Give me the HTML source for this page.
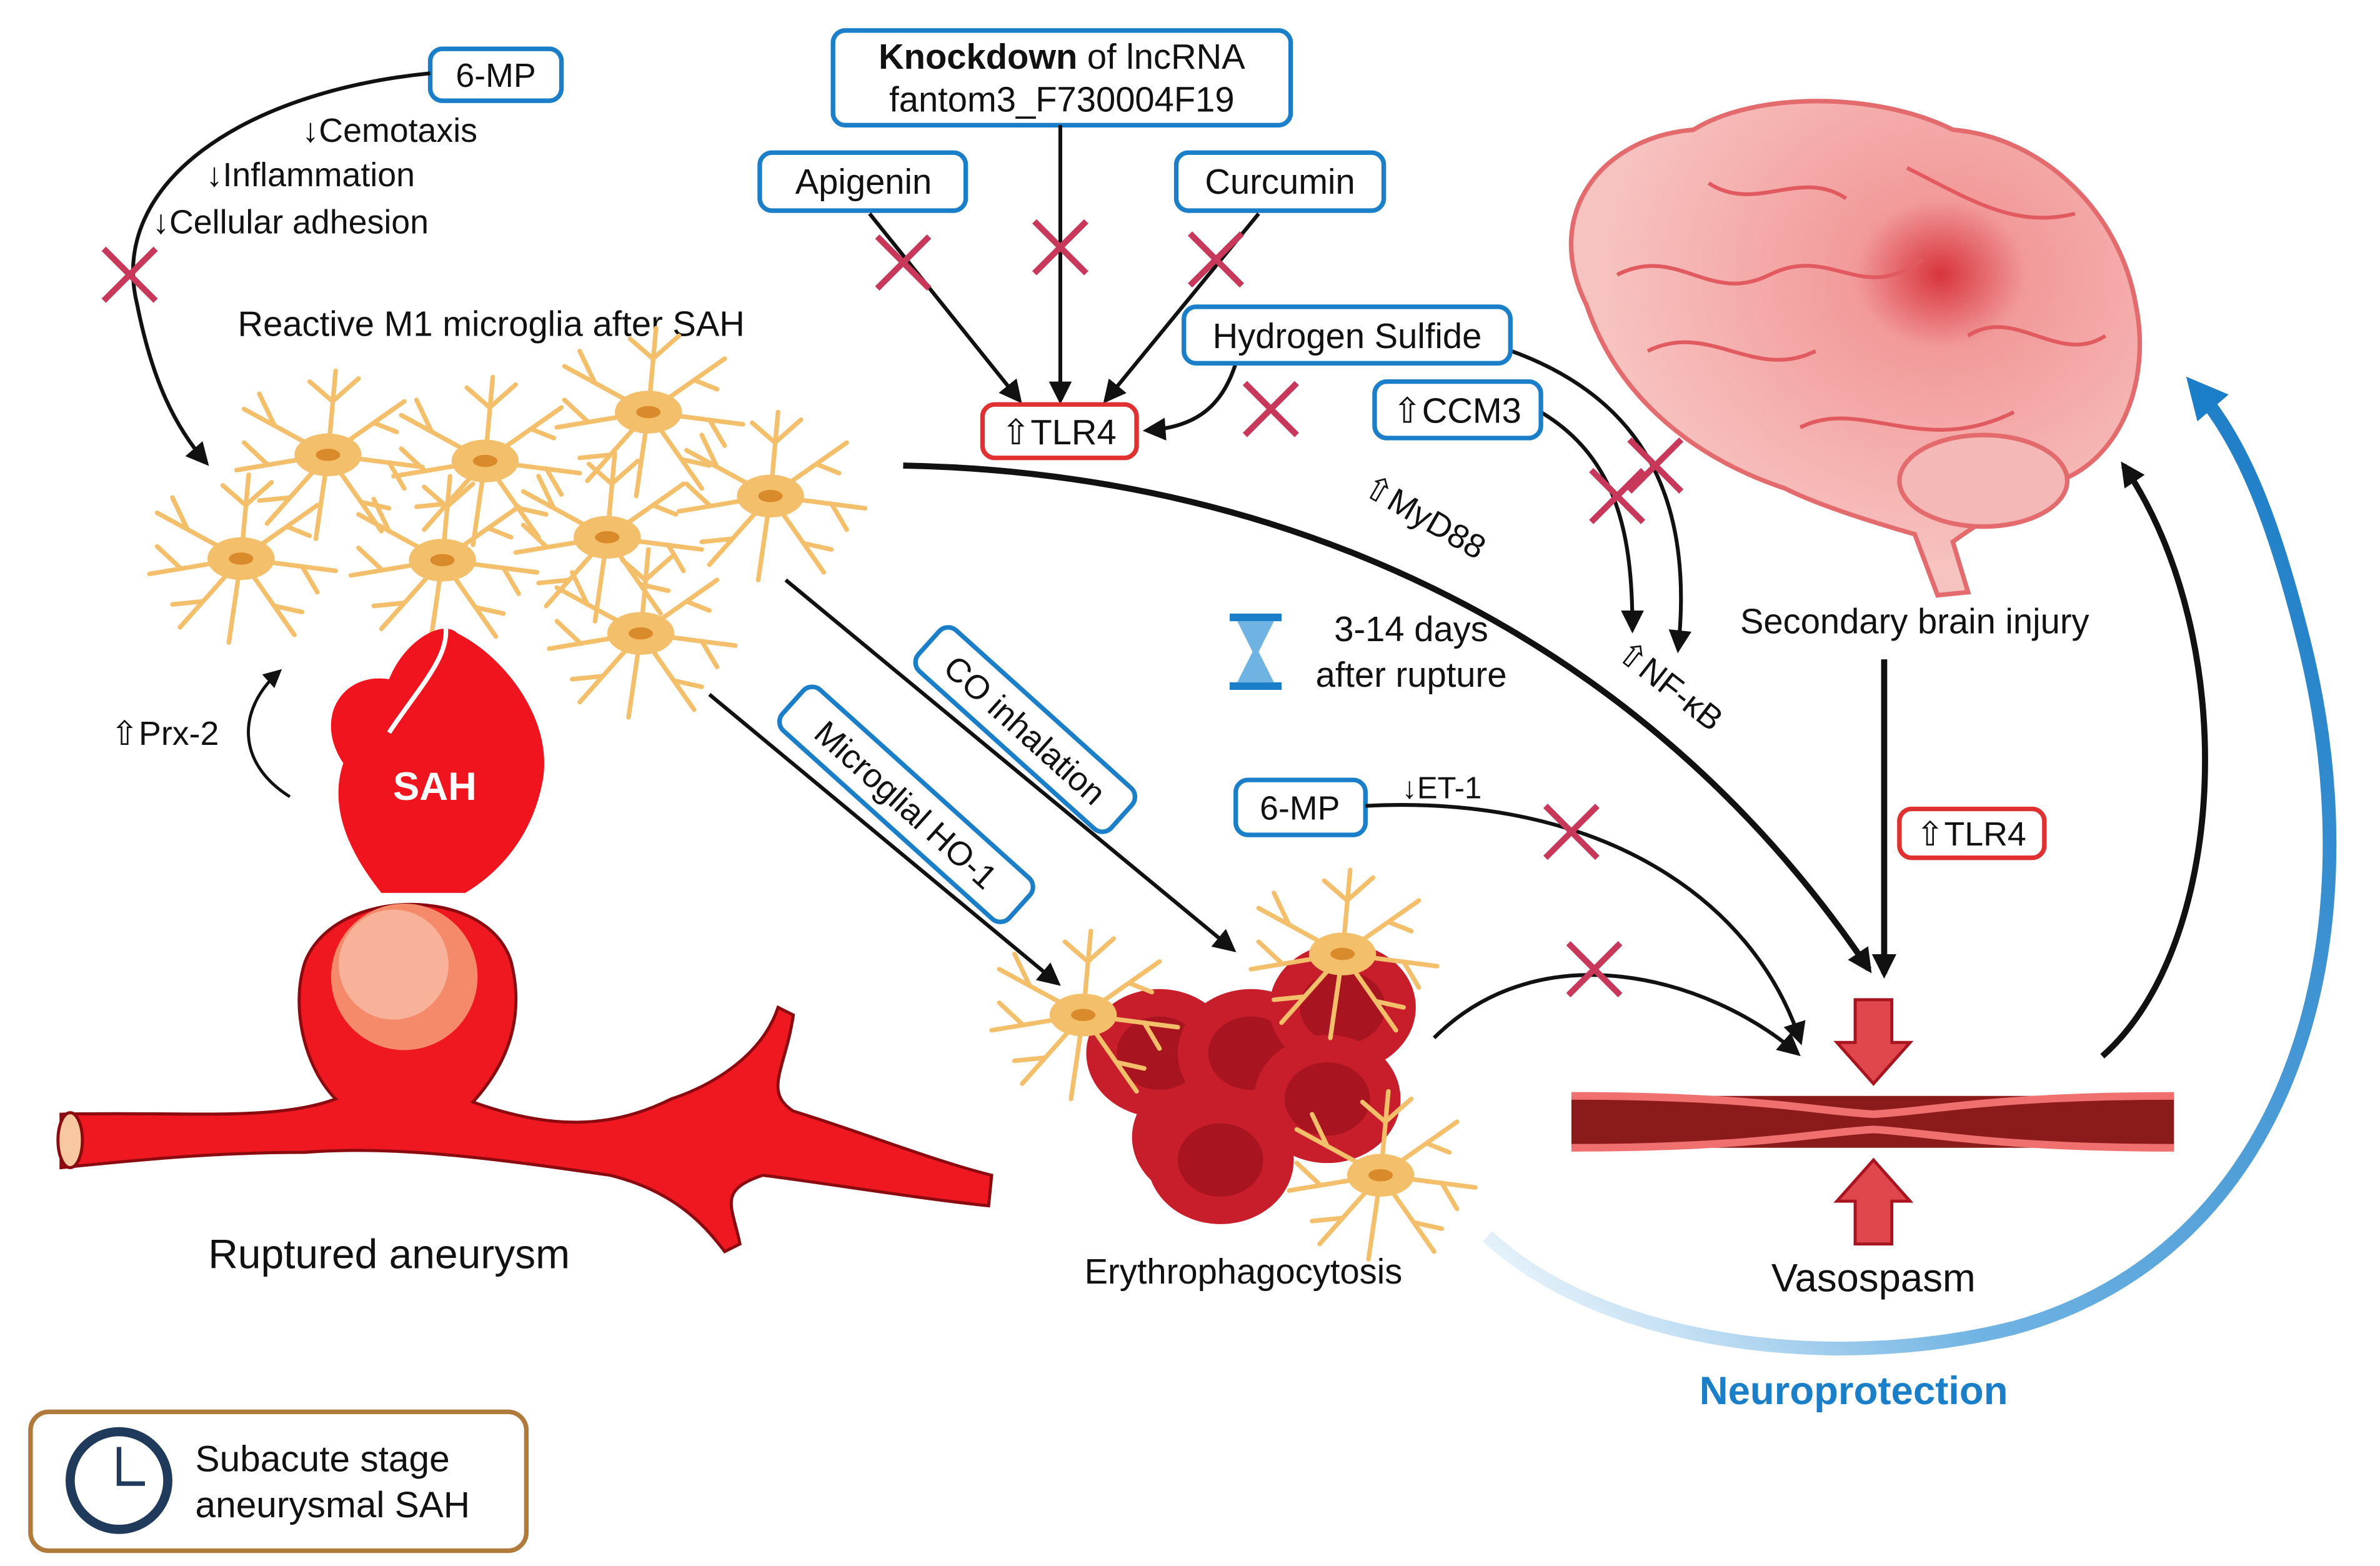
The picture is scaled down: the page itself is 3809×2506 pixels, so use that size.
<!DOCTYPE html>
<html><head><meta charset="utf-8"><style>
html,body{margin:0;padding:0;background:#fff}
svg{display:block}
text{font-family:"Liberation Sans",sans-serif;fill:#111}
</style></head><body>
<svg width="3809" height="2506" viewBox="0 0 1560 1026" preserveAspectRatio="none" xmlns="http://www.w3.org/2000/svg">
<defs>
<marker id="ah" viewBox="0 0 10 10" refX="8" refY="5" markerWidth="6" markerHeight="6" orient="auto"><path d="M0,0 L10,5 L0,10 z" fill="#111"/></marker>
<marker id="ahb" viewBox="0 0 10 10" refX="8" refY="5" markerWidth="4" markerHeight="4" orient="auto"><path d="M0,0 L10,5 L0,10 z" fill="#111"/></marker>
<marker id="ahblue" viewBox="0 0 10 10" refX="6" refY="5" markerWidth="3" markerHeight="3" orient="auto"><path d="M0,0 L10,5 L0,10 z" fill="#1a7fc8"/></marker>
<linearGradient id="bg" x1="0" y1="1" x2="1" y2="0"><stop offset="0" stop-color="#fff"/><stop offset="0.3" stop-color="#6fb3e3"/><stop offset="1" stop-color="#1679c4"/></linearGradient>
<radialGradient id="brain" cx="0.65" cy="0.35" r="0.6"><stop offset="0" stop-color="#d8343c"/><stop offset="0.25" stop-color="#f29a9a"/><stop offset="1" stop-color="#f7c3c0"/></radialGradient>
<g id="mg">
<g stroke="#f4bf6a" stroke-width="3" fill="none" stroke-linecap="round">
<path d="M0,0 L-55,-30 M-35,-19 L-45,-40 M0,0 L-60,10 M-40,6 L-55,-8 M0,0 L-40,45 M-25,28 L-45,30 M0,0 L5,-55 M3,-35 L-12,-48 M3,-35 L20,-50 M0,0 L50,-35 M30,-21 L45,-15 M0,0 L62,8 M40,5 L50,22 M0,0 L35,50 M22,31 L40,35 M0,0 L-8,55"/>
</g>
<ellipse rx="22" ry="14" fill="#f4bf6a"/><ellipse rx="8" ry="4" fill="#d98a2a"/>
</g>
<g id="x"><path d="M-17,-17 L17,17 M17,-17 L-17,17" stroke="#c8385a" stroke-width="4"/></g>
<g id="rbc"><ellipse rx="48" ry="42" fill="#c81e2c"/><ellipse rx="28" ry="24" fill="#a8141f"/></g>
</defs>

<!-- brain -->
<path d="M1040,200 C1010,140 1050,90 1110,85 C1150,60 1230,60 1280,85 C1340,90 1390,140 1400,200 C1410,250 1390,300 1350,315 C1320,330 1300,340 1280,355 L1290,388 L1270,390 L1255,350 C1220,340 1190,330 1170,320 C1110,300 1060,260 1040,200 z" fill="url(#brain)" stroke="#e36b6e" stroke-width="3"/>
<g stroke="#e05a5f" stroke-width="2.5" fill="none">
<path d="M1060,180 C1100,160 1120,200 1160,180 C1200,160 1220,200 1260,170 M1080,230 C1120,210 1150,250 1190,230 M1180,280 C1220,260 1260,300 1320,270 M1120,120 C1150,140 1180,110 1210,130 M1250,110 C1290,130 1320,150 1360,140 M1290,220 C1320,200 1350,240 1380,220"/>
</g>
<ellipse cx="1300" cy="315" rx="55" ry="30" fill="#f4b8b6" stroke="#e36b6e" stroke-width="3"/>

<!-- 6-MP top -->
<rect x="282" y="32" width="86" height="34" rx="8" fill="#fff" stroke="#1a7fc8" stroke-width="3"/>
<text x="325" y="57" font-size="22" text-anchor="middle">6-MP</text>
<text x="198" y="93" font-size="22">↓Cemotaxis</text>
<text x="135" y="122" font-size="22">↓Inflammation</text>
<text x="100" y="153" font-size="22">↓Cellular adhesion</text>
<path d="M282,48 C160,60 70,120 90,200 C100,250 115,280 135,303" fill="none" stroke="#111" stroke-width="2.5" marker-end="url(#ah)"/>
<use href="#x" x="85" y="180"/>
<text x="322" y="220" font-size="23" text-anchor="middle">Reactive M1 microglia after SAH</text>

<!-- microglia -->
<use href="#mg" x="215" y="298"/><use href="#mg" x="318" y="302"/><use href="#mg" x="425" y="270"/>
<use href="#mg" x="158" y="366"/><use href="#mg" x="290" y="367"/><use href="#mg" x="398" y="352"/>
<use href="#mg" x="505" y="325"/><use href="#mg" x="420" y="415"/>

<!-- top boxes -->
<rect x="546" y="20" width="300" height="62" rx="8" fill="#fff" stroke="#1a7fc8" stroke-width="3"/>
<text x="696" y="45" font-size="23" text-anchor="middle"><tspan font-weight="bold">Knockdown</tspan> of lncRNA</text>
<text x="696" y="73" font-size="23" text-anchor="middle">fantom3_F730004F19</text>
<rect x="498" y="100" width="135" height="38" rx="8" fill="#fff" stroke="#1a7fc8" stroke-width="3"/>
<text x="566" y="127" font-size="23" text-anchor="middle">Apigenin</text>
<rect x="771" y="100" width="136" height="38" rx="8" fill="#fff" stroke="#1a7fc8" stroke-width="3"/>
<text x="839" y="127" font-size="23" text-anchor="middle">Curcumin</text>
<g stroke="#111" stroke-width="2.5" fill="none" marker-end="url(#ah)">
<path d="M570,140 L668,262"/><path d="M695,82 L695,262"/><path d="M825,140 L725,262"/>
<path d="M810,238 C800,270 780,280 752,282"/>
<path d="M1010,270 C1060,300 1070,350 1070,412"/>
<path d="M985,228 C1080,260 1110,330 1100,425"/>
</g>
<use href="#x" x="592" y="172"/><use href="#x" x="695" y="162"/><use href="#x" x="797" y="170"/><use href="#x" x="833" y="268"/>
<use href="#x" x="1060" y="325"/><use href="#x" x="1085" y="305"/>
<rect x="644" y="265" width="101" height="35" rx="8" fill="#fff" stroke="#e03030" stroke-width="3"/>
<text x="694" y="291" font-size="23" text-anchor="middle">⇧TLR4</text>
<rect x="776" y="201" width="214" height="37" rx="8" fill="#fff" stroke="#1a7fc8" stroke-width="3"/>
<text x="883" y="228" font-size="23" text-anchor="middle">Hydrogen Sulfide</text>
<rect x="901" y="250" width="109" height="37" rx="8" fill="#fff" stroke="#1a7fc8" stroke-width="3"/>
<text x="955" y="277" font-size="23" text-anchor="middle">⇧CCM3</text>

<!-- MyD88 line -->
<path d="M592,305 C850,310 1080,420 1225,635" fill="none" stroke="#111" stroke-width="4" marker-end="url(#ahb)"/>
<text x="930" y="345" font-size="22" transform="rotate(30 930 345)" text-anchor="middle">⇧MyD88</text>
<text x="1090" y="455" font-size="22" transform="rotate(38 1090 455)" text-anchor="middle">⇧NF-κB</text>

<!-- hourglass -->
<g fill="#1a7fc8"><rect x="806" y="402" width="34" height="5"/><rect x="806" y="447" width="34" height="5"/>
<path d="M811,407 L835,407 L825,427 L835,447 L811,447 L821,427 z" fill="#6fb3e3"/></g>
<text x="925" y="420" font-size="23" text-anchor="middle">3-14 days</text>
<text x="925" y="450" font-size="23" text-anchor="middle">after rupture</text>
<text x="1255" y="415" font-size="23" text-anchor="middle">Secondary brain injury</text>
<path d="M1235,432 L1235,638" stroke="#111" stroke-width="4" marker-end="url(#ahb)"/>
<rect x="1245" y="530" width="95" height="32" rx="8" fill="#fff" stroke="#e03030" stroke-width="3"/>
<text x="1292" y="554" font-size="22" text-anchor="middle">⇧TLR4</text>
<path d="M1378,692 C1460,620 1470,420 1392,305" fill="none" stroke="#111" stroke-width="4" marker-end="url(#ahb)"/>

<!-- neuroprotection arc -->
<path d="M975,810 C1050,880 1200,900 1320,870 C1500,820 1560,620 1510,420 C1490,340 1470,290 1440,255" fill="none" stroke="url(#bg)" stroke-width="9" marker-end="url(#ahblue)"/>
<text x="1215" y="920" font-size="26" font-weight="bold" style="fill:#1a7fc8" text-anchor="middle">Neuroprotection</text>

<!-- vessel -->
<path d="M1030,718 L1425,718 L1425,752 L1030,752 z" fill="#8b1a1a"/>
<path d="M1030,718 C1150,718 1190,728 1228,730 C1266,728 1306,718 1425,718" fill="none" stroke="#f07070" stroke-width="5"/>
<path d="M1030,752 C1150,752 1190,742 1228,740 C1266,742 1306,752 1425,752" fill="none" stroke="#f07070" stroke-width="5"/>
<path d="M1216,655 L1240,655 L1240,683 L1252,683 L1228,710 L1204,683 L1216,683 z" fill="#e0474c" stroke="#a8141f" stroke-width="2"/>
<path d="M1216,815 L1240,815 L1240,787 L1252,787 L1228,760 L1204,787 L1216,787 z" fill="#e0474c" stroke="#a8141f" stroke-width="2"/>
<text x="1228" y="846" font-size="26" text-anchor="middle">Vasospasm</text>

<!-- 6-MP 2 -->
<rect x="810" y="511" width="85" height="36" rx="8" fill="#fff" stroke="#1a7fc8" stroke-width="3"/>
<text x="852" y="537" font-size="22" text-anchor="middle">6-MP</text>
<text x="945" y="523" font-size="20" text-anchor="middle">↓ET-1</text>
<path d="M895,528 C1050,520 1150,590 1180,682" fill="none" stroke="#111" stroke-width="2.5" marker-end="url(#ah)"/>
<use href="#x" x="1030" y="545"/>
<path d="M940,680 C1010,610 1120,640 1178,690" fill="none" stroke="#111" stroke-width="2.5" marker-end="url(#ah)"/>
<use href="#x" x="1045" y="635"/>

<!-- RBC cluster -->
<use href="#rbc" x="790" y="745"/><use href="#rbc" x="760" y="690"/><use href="#rbc" x="820" y="690"/>
<use href="#rbc" x="880" y="660"/><use href="#rbc" x="870" y="720"/><use href="#rbc" x="800" y="760"/>
<use href="#mg" x="710" y="665"/><use href="#mg" x="880" y="625"/><use href="#mg" x="905" y="770"/>
<text x="815" y="841" font-size="23" text-anchor="middle">Erythrophagocytosis</text>

<!-- rotated boxes -->
<path d="M515,380 L808,622" stroke="#111" stroke-width="2.5" marker-end="url(#ah)"/>
<path d="M465,455 L693,644" stroke="#111" stroke-width="2.5" marker-end="url(#ah)"/>
<g transform="translate(672,478) rotate(42)"><rect x="-85" y="-18" width="170" height="36" rx="8" fill="#fff" stroke="#1a7fc8" stroke-width="3"/><text x="0" y="8" font-size="22" text-anchor="middle">CO inhalation</text></g>
<g transform="translate(594,527) rotate(42)"><rect x="-100" y="-18" width="200" height="36" rx="8" fill="#fff" stroke="#1a7fc8" stroke-width="3"/><text x="0" y="8" font-size="22" text-anchor="middle">Microglial HO-1</text></g>

<!-- aneurysm -->
<text x="108" y="488" font-size="22" text-anchor="middle">⇧Prx-2</text>
<path d="M190,522 C155,500 155,465 183,440" fill="none" stroke="#111" stroke-width="2" marker-end="url(#ah)"/>
<path d="M225,500 C205,470 225,440 255,445 C265,420 290,405 300,415 C330,430 362,470 356,510 C350,545 330,570 305,585 L250,585 C230,560 215,530 225,500 z" fill="#f0141e"/>
<path d="M255,480 C275,450 295,430 292,410" fill="none" stroke="#fff" stroke-width="3"/>
<text x="285" y="524" font-size="26" font-weight="bold" style="fill:#fff" text-anchor="middle">SAH</text>
<path d="M40,730 C120,728 180,735 220,720 C200,700 190,660 200,630 C220,580 320,580 335,630 C345,670 330,700 310,722 C360,740 400,740 440,720 C470,710 500,690 510,660 L520,665 C515,700 500,715 520,728 C560,740 610,760 650,770 L648,790 C600,785 540,775 500,770 C470,780 480,790 485,815 L475,820 C460,800 440,780 400,770 C330,760 260,750 200,755 C140,755 90,760 40,765 z" fill="#ef1820" stroke="#8b0a10" stroke-width="2"/>
<circle cx="265" cy="640" r="48" fill="#f48a6a"/><circle cx="258" cy="632" r="36" fill="#f8b29a"/>
<ellipse cx="46" cy="747" rx="8" ry="18" fill="#f8c9a0" stroke="#8b0a10" stroke-width="2"/>
<text x="255" y="831" font-size="27" text-anchor="middle">Ruptured aneurysm</text>

<!-- legend -->
<rect x="20" y="925" width="325" height="91" rx="12" fill="#fff" stroke="#b07a3a" stroke-width="3"/>
<circle cx="78" cy="970" r="32" fill="#fff" stroke="#1f3a5a" stroke-width="6"/>
<path d="M78,948 L78,972 L95,972" stroke="#1f3a5a" stroke-width="3" fill="none"/>
<text x="128" y="964" font-size="24">Subacute stage</text>
<text x="128" y="994" font-size="24">aneurysmal SAH</text>
</svg>
</body></html>
